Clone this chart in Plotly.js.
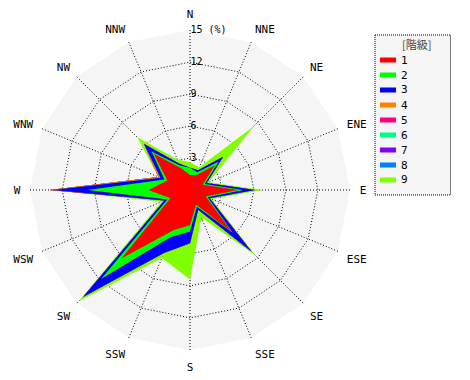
<!DOCTYPE html>
<html>
<head>
<meta charset="utf-8">
<script src="https://cdn.plot.ly/plotly-3.0.1.min.js"></script>
<style>
  html, body { margin: 0; padding: 0; background: #ffffff; }
  #chart { width: 470px; height: 380px; }
</style>
</head>
<body>
<div id="chart"></div>
<script>
// 16 wind directions (clockwise from north)
const directions = ['N','NNE','NE','ENE','E','ESE','SE','SSE','S','SSW','SW','WSW','W','WNW','NW','NNW'];

// frequency (%) of each class per direction
const class1 = [1.4, 1.5, 3.3, 1.3, 4.5, 1.6, 5.5, 1.5, 3.3, 4.1, 9.1, 2.0, 3.9, 2.3, 4.8, 2.2];
const class2 = [0.7, 0.3, 0.5, 0.2, 0.5, 0.2, 0.2, 0.2, 0.6, 0.7, 2.7, 0.3, 5.7, 0.3, 0.3, 0.3];
const class3 = [0.0, 0.2, 0.6, 0.2, 1.1, 0.2, 2.5, 0.3, 1.1, 1.6, 2.4, 0.3, 3.3, 0.4, 1.0, 0.2];
const class4 = [0.0, 0.0, 0.0, 0.0, 0.0, 0.0, 0.0, 0.0, 0.0, 0.0, 0.0, 0.0, 0.3, 0.2, 0.0, 0.0];
const class5 = [0, 0, 0, 0, 0, 0, 0, 0, 0, 0, 0, 0, 0, 0, 0, 0];
const class6 = [0, 0, 0, 0, 0, 0, 0, 0, 0, 0, 0, 0, 0, 0, 0, 0];
const class7 = [0, 0, 0, 0, 0, 0, 0, 0, 0, 0, 0, 0, 0, 0, 0, 0];
const class8 = [0, 0, 0, 0, 0, 0, 0, 0, 0, 0, 0, 0, 0, 0, 0, 0];
const class9 = [0.5, 0.3, 4.1, 0.2, 0.7, 0.2, 0.5, 0.8, 3.4, 0.5, 0.6, 0.3, 0.0, 0.0, 0.9, 0.4];

const classNames = ['1','2','3','4','5','6','7','8','9'];
const classColors = ['#ff0000','#00ff00','#0000ff','#ff8000','#ff0080','#00ff80','#8000ff','#0080ff','#80ff00'];
const radialTicks = [3, 6, 9, 12, 15];
const radialTickText = ['3', '6', '9', '12', '15 (%)'];
const legendTitle = '[階級]';

const classData = [class1, class2, class3, class4, class5, class6, class7, class8, class9];

// cumulative (stacked) values
const cumulative = [];
let running = directions.map(() => 0);
classData.forEach(arr => {
  running = running.map((v, i) => v + arr[i]);
  cumulative.push(running.slice());
});

const traces = [];
for (let k = classData.length - 1; k >= 0; k--) {
  const r = cumulative[k].concat([cumulative[k][0]]);
  const theta = directions.concat([directions[0]]);
  traces.push({
    type: 'scatterpolar',
    mode: 'lines',
    r: r,
    theta: theta,
    fill: 'toself',
    fillcolor: classColors[k],
    line: { color: classColors[k], width: 0 },
    name: classNames[k],
    showlegend: false,
    hoverinfo: 'skip'
  });
}

const W = 470, H = 380;
const px = x => x / W;
const py = y => 1 - y / H;

const shapes = [{
  type: 'rect', xref: 'paper', yref: 'paper',
  x0: px(375), x1: px(450.5), y0: py(35), y1: py(195),
  fillcolor: '#f5f5f5',
  line: { color: '#000000', width: 1, dash: '1px,1px' },
  layer: 'below'
}];
const annotations = [{
  xref: 'paper', yref: 'paper', x: px(416), y: py(44),
  text: legendTitle, showarrow: false, xanchor: 'center', yanchor: 'middle',
  font: { family: 'Noto Sans CJK JP', size: 11, color: '#444444' }
}];
classNames.forEach((nm, i) => {
  const yc = 60 + 15 * i;
  shapes.push({
    type: 'rect', xref: 'paper', yref: 'paper',
    x0: px(380), x1: px(396), y0: py(yc - 2.5), y1: py(yc + 2.5),
    fillcolor: classColors[i], line: { width: 0 }
  });
  annotations.push({
    xref: 'paper', yref: 'paper', x: px(399), y: py(yc),
    text: nm, showarrow: false, xanchor: 'left', yanchor: 'middle',
    font: { family: 'DejaVu Sans Mono', size: 11, color: '#000000' }
  });
});

const layout = {
  width: W, height: H,
  autosize: false,
  margin: { l: 0, r: 0, t: 0, b: 0, pad: 0 },
  paper_bgcolor: '#ffffff',
  showlegend: false,
  font: { family: 'DejaVu Sans Mono', size: 11, color: '#000000' },
  polar: {
    domain: { x: [px(30), px(350)], y: [1 - 350 / H, 1 - 30 / H] },
    bgcolor: '#f5f5f5',
    gridshape: 'linear',
    radialaxis: {
      range: [0, 15.02],
      angle: 90,
      side: 'clockwise',
      tickvals: radialTicks,
      ticktext: radialTickText,
      tickangle: 90,
      ticks: '',
      ticklabelshift: 4,
      ticklabelstandoff: 3,
      showline: false,
      showgrid: true,
      gridcolor: '#000000',
      gridwidth: 1,
      griddash: '1px,2px',
      tickfont: { family: 'DejaVu Sans Mono', size: 10, color: '#000000' },
      layer: 'above traces'
    },
    angularaxis: {
      type: 'category',
      categoryarray: directions,
      direction: 'clockwise',
      rotation: 90,
      showline: false,
      ticks: 'outside',
      ticklen: 7,
      tickcolor: 'rgba(0,0,0,0)',
      showgrid: true,
      gridcolor: '#000000',
      gridwidth: 1,
      griddash: '1px,2px',
      tickfont: { family: 'DejaVu Sans Mono', size: 11, color: '#000000' },
      layer: 'above traces'
    }
  },
  shapes: shapes,
  annotations: annotations
};

Plotly.newPlot('chart', traces, layout, { staticPlot: true, displayModeBar: false });
</script>
</body>
</html>
